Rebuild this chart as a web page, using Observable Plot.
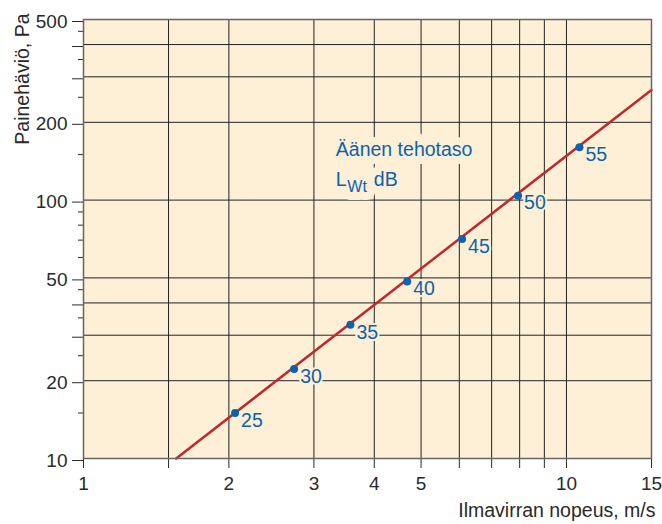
<!DOCTYPE html>
<html><head><meta charset="utf-8">
<script src="https://cdn.jsdelivr.net/npm/d3@7"></script>
<script src="https://cdn.jsdelivr.net/npm/@observablehq/plot@0.6"></script>
<style>body{margin:0;background:#fff}</style>
</head><body><div id="chart"></div>
<script>
const velocity = [2.06, 2.73, 3.57, 4.68, 6.08, 7.94, 10.64];
const pressure = [15.0, 22.2, 32.9, 48.4, 70.7, 104, 160];
const soundLevel = [25, 30, 35, 40, 45, 50, 55];
const lineVelocity = [1.556, 15];
const linePressure = [10, 267];
const xTicks = [1, 1.5, 2, 3, 4, 5, 6, 7, 8, 9, 10, 15];
const xTickLabels = [1, 2, 3, 4, 5, 10, 15];
const xGrid = [1.5, 2, 3, 4, 5, 6, 7, 8, 9, 10];
const yMajorTicks = [10, 20, 30, 40, 50, 100, 200, 300, 400, 500];
const yTickLabels = [10, 20, 50, 100, 200, 500];
const yMinorTicks = [15, 25, 35, 45, 60, 70, 80, 90, 150, 250, 350, 450];
const yGrid = [20, 30, 40, 50, 100, 200, 300, 400];
const legendTitle = "Äänen tehotaso";
const legendSymbol = ["L", "Wt", "dB"];
const legendPos = [{x: 3.33, y: 156}];
const xLabel = "Ilmavirran nopeus, m/s";
const yLabel = "Painehäviö, Pa";

const cream = "#fdf0d6";
const blue = "#0d62ad";
const red = "#c1272d";
const ink = "#2a2a2a";

const legendParts = [
  {text: legendTitle, dx: 0, dy: 0, size: 19.5},
  {text: legendSymbol[0], dx: 0, dy: 30, size: 19.5},
  {text: legendSymbol[1], dx: 11.5, dy: 37, size: 16},
  {text: legendSymbol[2], dx: 38, dy: 30, size: 19.5}
];
const legendMarks = (halo) => legendParts.map(p =>
  Plot.text(legendPos, {x: "x", y: "y", text: () => p.text, textAnchor: "start", lineAnchor: "middle",
    dx: p.dx, dy: p.dy, fontSize: p.size,
    fill: halo ? cream : blue, stroke: halo ? cream : null, strokeWidth: halo ? 16 : 0}));

const chart = Plot.plot({
  width: 662,
  height: 524,
  marginLeft: 83,
  marginRight: 11,
  marginTop: 19,
  marginBottom: 66,
  style: {fontFamily: "'Liberation Sans', Arial, sans-serif", fontSize: "19px", color: ink, background: "#fff"},
  x: {type: "log", domain: [1, 15]},
  y: {type: "log", domain: [10, 500]},
  marks: [
    Plot.frame({fill: cream, stroke: null}),
    Plot.ruleX(xGrid, {x: d => d, stroke: "#222", strokeWidth: 1}),
    Plot.ruleY(yGrid, {y: d => d, stroke: "#222", strokeWidth: 1}),
    Plot.line(lineVelocity, {x: d => d, y: (d, i) => linePressure[i], stroke: red, strokeWidth: 2.5}),
    Plot.dot(soundLevel, {x: (d, i) => velocity[i], y: (d, i) => pressure[i], r: 4, fill: blue, stroke: null}),
    Plot.text(soundLevel, {x: (d, i) => velocity[i], y: (d, i) => pressure[i], text: d => String(d),
      textAnchor: "start", lineAnchor: "middle", dx: 6, dy: 7.5, fontSize: 19.5, fill: cream,
      stroke: cream, strokeWidth: 4}),
    Plot.text(soundLevel, {x: (d, i) => velocity[i], y: (d, i) => pressure[i], text: d => String(d),
      textAnchor: "start", lineAnchor: "middle", dx: 6, dy: 7.5, fontSize: 19.5, fill: blue}),
    ...legendMarks(true),
    ...legendMarks(false),
    Plot.axisX(xTicks, {tickSize: 10, tickPadding: 8, label: null, fontSize: 19,
      tickFormat: d => xTickLabels.includes(d) ? String(d) : ""}),
    Plot.axisY(yMajorTicks, {tickSize: 11, tickPadding: 5, label: null, fontSize: 19, dy: 2,
      tickFormat: d => yTickLabels.includes(d) ? String(d) : ""}),
    Plot.axisY(yMinorTicks, {tickSize: 5, label: null, tickFormat: () => ""}),
    Plot.frame({stroke: "#666", strokeWidth: 1.5}),
    Plot.text([yLabel], {frameAnchor: "top-left", rotate: -90, textAnchor: "end", lineAnchor: "middle",
      dx: -61, dy: -6, fontSize: 19.5, fill: ink}),
    Plot.text([xLabel], {frameAnchor: "bottom-right", textAnchor: "end", lineAnchor: "middle",
      dx: 4, dy: 52, fontSize: 19.5, fill: ink})
  ]
});
document.getElementById("chart").appendChild(chart);
</script>
</body></html>
